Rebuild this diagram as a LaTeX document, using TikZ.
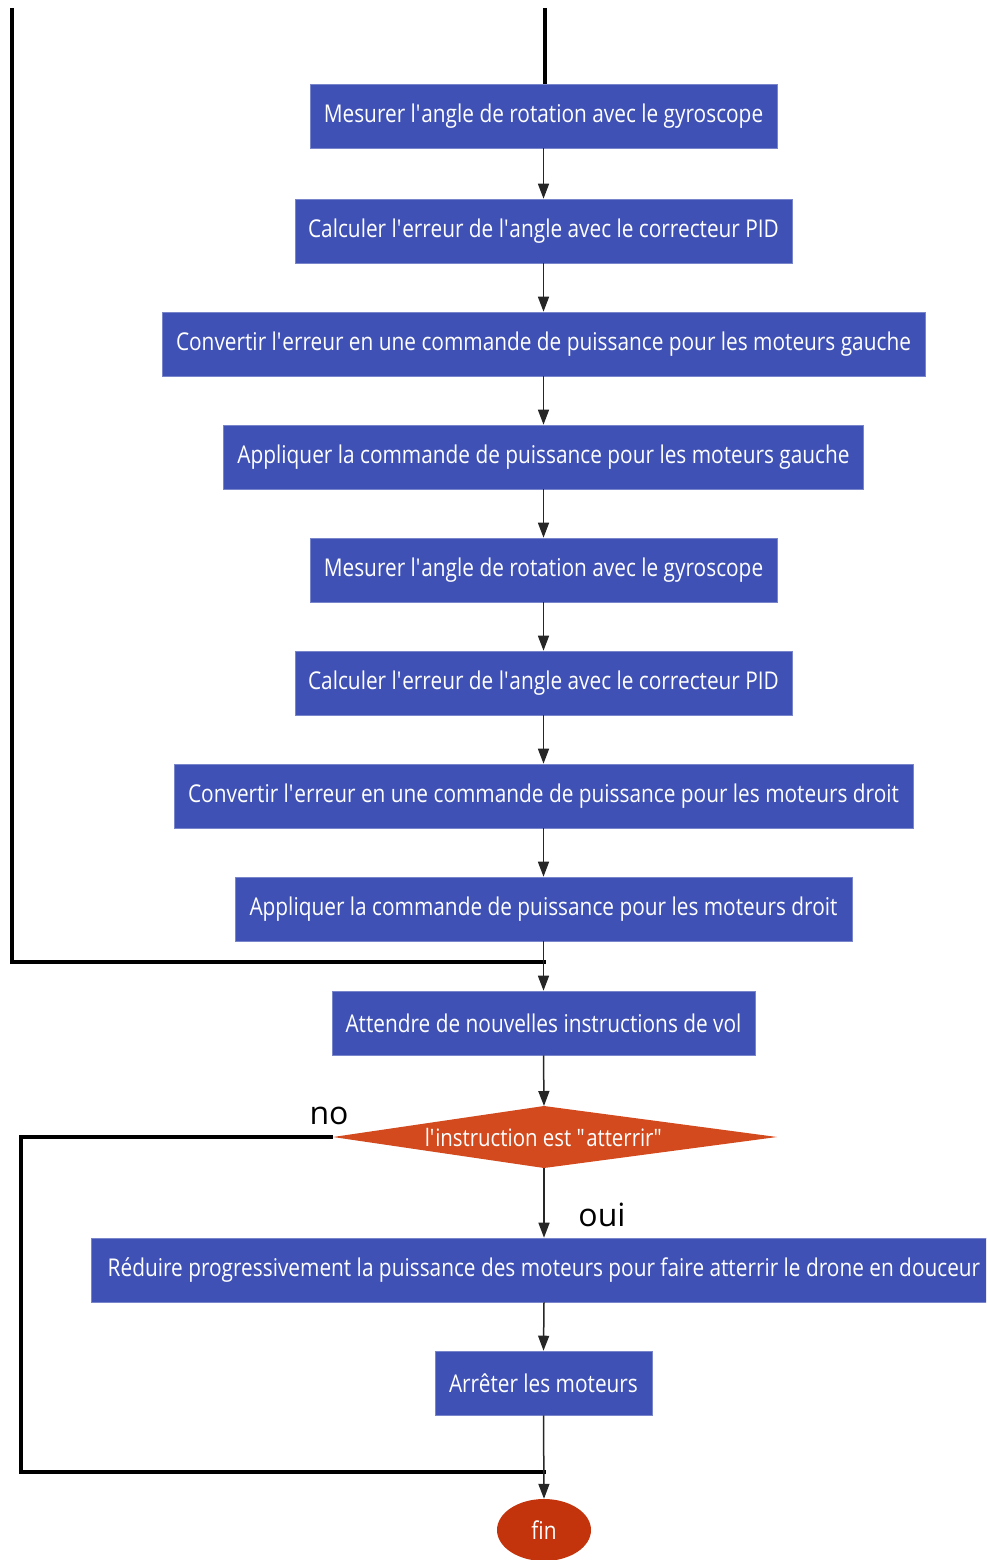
\documentclass[tikz,border=0pt]{standalone}
\usepackage{fontspec}
\setmainfont{Open Sans}[FakeStretch=0.85]
\newfontfamily\labelfont{Open Sans}
\usetikzlibrary{arrows.meta,shapes.geometric}
\definecolor{boxblue}{RGB}{63,81,181}
\definecolor{decision}{RGB}{210,74,30}
\definecolor{endred}{RGB}{196,52,12}
\newcommand\ap{\textquotesingle}
\newcommand\dq{\textquotedbl}
\begin{document}
\begin{tikzpicture}[x=1pt,y=-1pt,
  stepbox/.style={fill=boxblue, draw=boxblue!70!white, line width=0.6pt,
    text=white, minimum height=64pt, inner sep=0pt,
    font=\fontsize{24.5}{28}\selectfont},
  flow/.style={draw=black!85, line width=1.5pt,
    -{Triangle[length=15pt,width=11pt]}},
  loopline/.style={draw=black, line width=4pt},
  answer/.style={font=\labelfont\fontsize{32}{36}\selectfont, text=black, inner sep=0pt}]
\useasboundingbox (0,0) rectangle (986,1560);
\clip (0,0) rectangle (986,1560);

% process steps
\node[stepbox, minimum width=467pt] (m1) at (543.5,116) {Mesurer l\ap angle de rotation avec le gyroscope};
\node[stepbox, minimum width=497pt] (c1) at (543.5,231) {Calculer l\ap erreur de l\ap angle avec le correcteur PID};
\node[stepbox, minimum width=763pt] (v1) at (543.5,344) {Convertir l\ap erreur en une commande de puissance pour les moteurs gauche};
\node[stepbox, minimum width=640pt] (p1) at (543.5,457) {Appliquer la commande de puissance pour les moteurs gauche};
\node[stepbox, minimum width=467pt] (m2) at (543.5,570) {Mesurer l\ap angle de rotation avec le gyroscope};
\node[stepbox, minimum width=497pt] (c2) at (543.5,683) {Calculer l\ap erreur de l\ap angle avec le correcteur PID};
\node[stepbox, minimum width=739pt] (v2) at (543.5,796) {Convertir l\ap erreur en une commande de puissance pour les moteurs droit};
\node[stepbox, minimum width=617pt] (p2) at (543.5,909) {Appliquer la commande de puissance pour les moteurs droit};
\node[stepbox, minimum width=423pt] (w) at (543.5,1023) {Attendre de nouvelles instructions de vol};
\node[stepbox, minimum width=906pt] (r) at (544,1270) {R\'eduire progressivement la puissance des moteurs pour faire atterrir le drone en douceur};
\node[stepbox, minimum width=217pt] (s) at (543.5,1383) {Arr\^eter les moteurs};

% decision
\coordinate (dtop) at (544,1106);
\coordinate (dbot) at (544,1168);
\coordinate (dleft) at (333,1137);
\coordinate (dright) at (777,1137);
\fill[decision] (dleft) -- (dtop) -- (dright) -- (dbot) -- cycle;
\node[text=white, font=\fontsize{24}{28}\selectfont] (d) at (544,1137) {l\ap instruction est \dq atterrir\dq};

% end
\node[ellipse, fill=endred, minimum width=94pt, minimum height=62pt, inner sep=0pt,
  text=white, font=\fontsize{24.5}{28}\selectfont] (fin) at (544,1530) {fin};

% loop entry and junctions
\coordinate (top) at (545,8);
\coordinate (ltop) at (12,8);
\coordinate (ljoin) at (546,962);
\coordinate (njoin) at (546,1472);
\coordinate (nleft) at (21,1137);

\draw[loopline] (top) -- (top |- m1.north);
\draw[loopline] (ltop) |- (ljoin);
\draw[loopline] (dleft) -- (nleft) |- (njoin);

% connectors
\draw[flow] (m1.south) -- (c1.north);
\draw[flow] (c1.south) -- (v1.north);
\draw[flow] (v1.south) -- (p1.north);
\draw[flow] (p1.south) -- (m2.north);
\draw[flow] (m2.south) -- (c2.north);
\draw[flow] (c2.south) -- (v2.north);
\draw[flow] (v2.south) -- (p2.north);
\draw[flow] (p2.south) -- (w.north);
\draw[flow] (w.south) -- (dtop);
\draw[flow] (dbot) -- (r.north);
\draw[flow] (r.south) -- (s.north);
\draw[flow] (s.south) -- (fin.north);

% answers
\node[answer, anchor=base] (no) at (329,1124) {no};
\node[answer, anchor=base] (oui) at (602,1226) {oui};
\end{tikzpicture}
\end{document}
